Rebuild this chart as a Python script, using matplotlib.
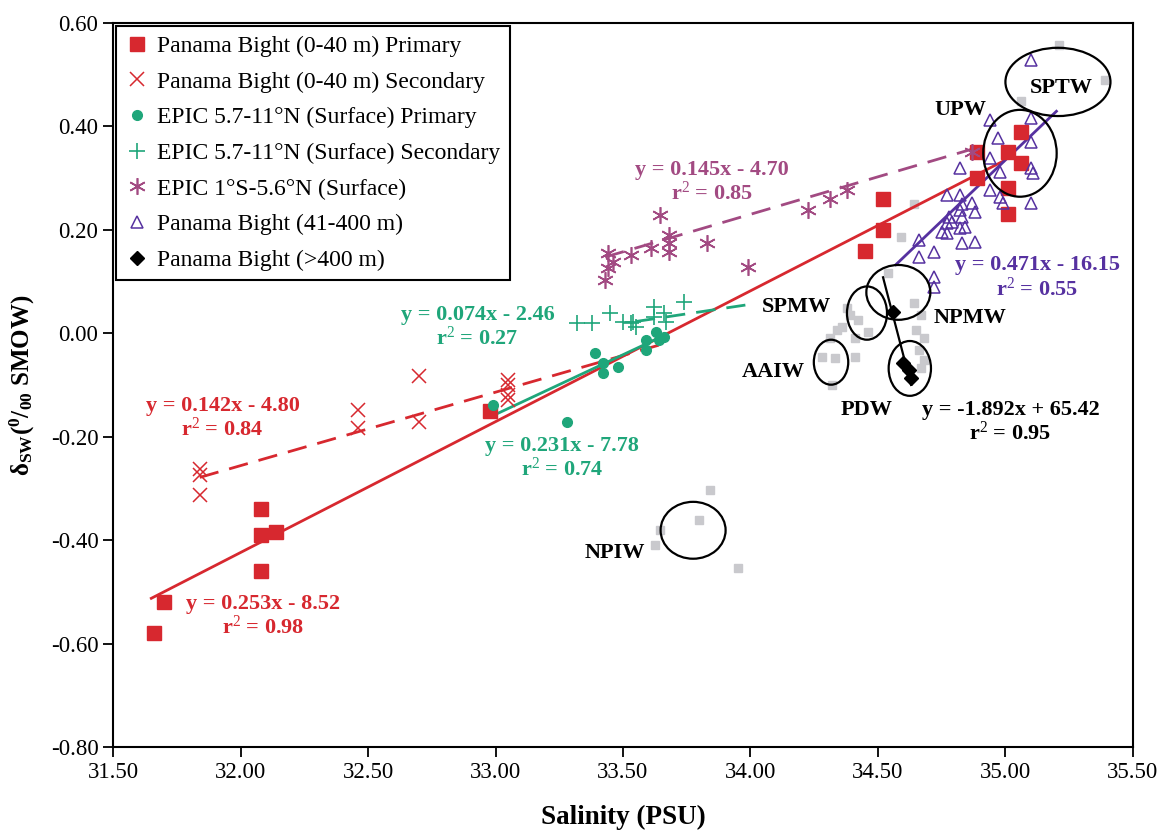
import matplotlib
matplotlib.use("Agg")
import matplotlib.pyplot as plt
from matplotlib.patches import Ellipse
from matplotlib.lines import Line2D

plt.rcParams['font.family'] = ['Liberation Serif', 'DejaVu Serif']
plt.rcParams['mathtext.fontset'] = 'custom'
plt.rcParams['mathtext.rm'] = 'Liberation Serif'
plt.rcParams['mathtext.it'] = 'Liberation Serif:italic'
plt.rcParams['mathtext.bf'] = 'Liberation Serif:bold'

# ---------------- data ----------------
# Panama Bight (0-40 m) primary
pb_pri_sal = [31.66, 31.70, 32.08, 32.08, 32.14, 32.08, 32.98, 34.52, 34.52, 34.45,
              34.89, 34.89, 35.01, 35.06, 35.06, 35.01, 35.01]
pb_pri_d18 = [-0.58, -0.52, -0.34, -0.39, -0.385, -0.46, -0.15, 0.26, 0.20, 0.16,
              0.35, 0.30, 0.35, 0.39, 0.33, 0.28, 0.23]

# Panama Bight (0-40 m) secondary
pb_sec_sal = [31.84, 31.84, 31.84, 32.46, 32.46, 32.70, 32.70, 33.05, 33.05, 33.05, 33.05]
pb_sec_d18 = [-0.262, -0.275, -0.313, -0.149, -0.184, -0.083, -0.172, -0.09, -0.10, -0.12, -0.13]

# EPIC 5.7-11N surface primary
ep_pri_sal = [32.99, 33.28, 33.39, 33.42, 33.42, 33.48, 33.59, 33.59, 33.63, 33.64, 33.66]
ep_pri_d18 = [-0.139, -0.172, -0.039, -0.058, -0.077, -0.066, -0.033, -0.014, 0.002, -0.013, -0.007]

# EPIC 5.7-11N surface secondary
ep_sec_sal = [33.32, 33.38, 33.45, 33.50, 33.53, 33.55, 33.54, 33.62, 33.62, 33.66, 33.67, 33.74]
ep_sec_d18 = [0.019, 0.019, 0.039, 0.021, 0.019, 0.012, 0.021, 0.050, 0.031, 0.040, 0.021, 0.060]

# EPIC 1S-5.6N surface
eq_sal = [33.44, 33.46, 33.44, 33.43, 33.53, 33.61, 33.645, 33.68, 33.68, 33.68,
          33.83, 33.99, 34.225, 34.31, 34.38, 34.87]
eq_d18 = [0.155, 0.137, 0.126, 0.103, 0.151, 0.164, 0.228, 0.190, 0.174, 0.157,
          0.174, 0.128, 0.238, 0.260, 0.277, 0.350]

# Panama Bight (41-400 m)
pb_mid_sal = [35.10, 34.94, 35.10, 34.97, 35.10, 34.94, 34.82, 35.10, 35.11, 34.98,
              34.94, 34.98, 34.99, 35.10, 34.77, 34.82, 34.83, 34.82, 34.87, 34.88,
              34.78, 34.83, 34.77, 34.79, 34.75, 34.82, 34.84, 34.66, 34.77, 34.83,
              34.88, 34.66, 34.72, 34.72, 34.72]
pb_mid_d18 = [0.528, 0.412, 0.416, 0.377, 0.369, 0.338, 0.319, 0.319, 0.310, 0.311,
              0.277, 0.263, 0.251, 0.251, 0.267, 0.267, 0.250, 0.238, 0.251, 0.234,
              0.224, 0.224, 0.213, 0.215, 0.195, 0.203, 0.205, 0.180, 0.193, 0.174,
              0.176, 0.147, 0.157, 0.108, 0.089]

# Panama Bight (>400 m)
pb_deep_sal = [34.56, 34.60, 34.62, 34.63]
pb_deep_d18 = [0.041, -0.058, -0.072, -0.087]

# Reference water-mass values
wm_sal = [35.39, 35.06, 35.21, 34.64, 34.59, 34.54, 34.64, 34.67, 34.38, 34.39,
          34.36, 34.34, 34.42, 34.46, 34.41, 34.65, 34.68, 34.66, 34.68, 34.67,
          34.31, 34.28, 34.33, 34.41, 34.32, 33.84, 33.80, 33.645, 33.625, 33.95]
wm_d18 = [0.489, 0.450, 0.557, 0.250, 0.186, 0.116, 0.058, 0.035, 0.048, 0.035,
          0.012, 0.006, 0.025, 0.002, -0.010, 0.006, -0.010, -0.033, -0.052, -0.068,
          -0.010, -0.046, -0.048, -0.046, -0.100, -0.304, -0.362, -0.381, -0.410, -0.453]

# Regression fits: (slope, intercept, x-start, x-end)
fit_pb_pri = (0.253, -8.52, 31.65, 34.99)
fit_pb_sec = (0.142, -4.80, 31.84, 33.66)
fit_ep_pri = (0.231, -7.78, 32.99, 33.67)
fit_ep_sec = (0.074, -2.46, 33.55, 33.98)
fit_eq = (0.145, -4.70, 33.43, 34.90)
fit_pb_mid = (0.471, -16.15, 34.57, 35.20)
fit_pb_deep = (-1.892, 65.42, 34.52, 34.63)

# Water-mass ellipses: name, centre salinity, centre d18O, width, height
masses = [
    ("SPTW", 35.206, 0.486, 0.412, 0.132),
    ("UPW", 35.057, 0.348, 0.288, 0.168),
    ("NPMW", 34.58, 0.079, 0.251, 0.106),
    ("SPMW", 34.457, 0.039, 0.157, 0.103),
    ("AAIW", 34.316, -0.056, 0.135, 0.087),
    ("PDW", 34.625, -0.068, 0.166, 0.106),
    ("NPIW", 33.775, -0.381, 0.255, 0.110),
]
# Label positions for the water masses
mass_labels = {
    "SPTW": (35.218, 0.474), "UPW": (34.825, 0.431), "SPMW": (34.18, 0.050),
    "NPMW": (34.86, 0.029), "AAIW": (34.09, -0.075), "PDW": (34.457, -0.149),
    "NPIW": (33.47, -0.424),
}

RED = '#d7282f'
GREEN = '#1fa67a'
MAGENTA = '#a24a82'
INDIGO = '#5631a0'
GRAY = '#c9c9cd'

fig = plt.figure(figsize=(11.74, 8.32), dpi=100)
ax = fig.add_axes([0.0963, 0.1022, 0.8687, 0.8702])
ax.set_xlim(31.5, 35.5)
ax.set_ylim(-0.8, 0.6)


def fit_line(fit, color, ls, lw=2.0):
    m, b, x0, x1 = fit
    xs = [x0, x1]
    ys = [m * x + b for x in xs]
    line, = ax.plot(xs, ys, color=color, lw=lw, zorder=3)
    if ls == 'dashed':
        line.set_dashes((7, 4))


# reference water masses (behind everything)
ax.plot(wm_sal, wm_d18, ls='none', marker='s', ms=6, mfc=GRAY, mec=GRAY, zorder=1)

fit_line(fit_pb_pri, RED, 'solid')
fit_line(fit_pb_sec, RED, 'dashed')
fit_line(fit_ep_pri, GREEN, 'solid')
fit_line(fit_ep_sec, GREEN, 'dashed')
fit_line(fit_eq, MAGENTA, 'dashed')
fit_line(fit_pb_mid, INDIGO, 'solid')
fit_line(fit_pb_deep, 'black', 'solid', lw=1.6)

ax.plot(pb_pri_sal, pb_pri_d18, ls='none', marker='s', ms=10, color=RED, zorder=4)
ax.plot(pb_sec_sal, pb_sec_d18, ls='none', marker='x', ms=10, mew=1.1, color=RED, zorder=4)
ax.plot(ep_pri_sal, ep_pri_d18, ls='none', marker='o', ms=7, color=GREEN, zorder=4)
ax.plot(ep_sec_sal, ep_sec_d18, ls='none', marker='+', ms=11, mew=1.2, color=GREEN, zorder=4)
ax.plot(eq_sal, eq_d18, ls='none', marker=(6, 2, 0), ms=12, mew=1.2, color=MAGENTA, zorder=4)
ax.plot(pb_mid_sal, pb_mid_d18, ls='none', marker='^', ms=8, mew=1.1, mfc='none', mec=INDIGO, zorder=4)
ax.plot(pb_deep_sal, pb_deep_d18, ls='none', marker='D', ms=7, color='black', zorder=5)

for name, cx, cy, w, h in masses:
    ax.add_patch(Ellipse((cx, cy), w, h, fill=False, ec='black', lw=1.6, zorder=6))
    lx, ly = mass_labels[name]
    ax.text(lx, ly, name, ha='center', va='center', fontsize=16, fontweight='bold', zorder=7)

# regression equations
eq_kw = dict(ha='center', va='center', fontsize=16, fontweight='bold', linespacing=1.1, zorder=7)
ax.text(33.85, 0.291, "y = 0.145x - 4.70\nr$^2$ = 0.85", color=MAGENTA, **eq_kw)
ax.text(35.125, 0.107, "y = 0.471x - 16.15\nr$^2$ = 0.55", color=INDIGO, **eq_kw)
ax.text(35.02, -0.172, "y = -1.892x + 65.42\nr$^2$ = 0.95", color='black', **eq_kw)
ax.text(32.93, 0.011, "y = 0.074x - 2.46\nr$^2$ = 0.27", color=GREEN, **eq_kw)
ax.text(33.26, -0.242, "y = 0.231x - 7.78\nr$^2$ = 0.74", color=GREEN, **eq_kw)
ax.text(31.93, -0.165, "y = 0.142x - 4.80\nr$^2$ = 0.84", color=RED, **eq_kw)
ax.text(32.09, -0.548, "y = 0.253x - 8.52\nr$^2$ = 0.98", color=RED, **eq_kw)

ax.set_xticks([31.5 + 0.5 * i for i in range(9)])
ax.set_yticks([-0.8 + 0.2 * i for i in range(8)])
ax.xaxis.set_major_formatter(matplotlib.ticker.FormatStrFormatter('%.2f'))
ax.yaxis.set_major_formatter(matplotlib.ticker.FormatStrFormatter('%.2f'))
ax.tick_params(direction='out', length=7, width=1.3, labelsize=16.5, top=False, right=False)
for sp in ax.spines.values():
    sp.set_linewidth(1.5)

ax.set_xlabel("Salinity (PSU)", fontsize=19.5, fontweight='bold', labelpad=16)
ax.set_ylabel(r"δ$_{\mathbf{SW}}$($^{\mathbf{0}}$/$_{\mathbf{00}}$ SMOW)",
              fontsize=18, fontweight='bold', labelpad=10)

handles = [
    Line2D([], [], ls='none', marker='s', ms=10, color=RED),
    Line2D([], [], ls='none', marker='x', ms=10, mew=1.1, color=RED),
    Line2D([], [], ls='none', marker='o', ms=7, color=GREEN),
    Line2D([], [], ls='none', marker='+', ms=11, mew=1.2, color=GREEN),
    Line2D([], [], ls='none', marker=(6, 2, 0), ms=12, mew=1.2, color=MAGENTA),
    Line2D([], [], ls='none', marker='^', ms=8, mew=1.1, mfc='none', mec=INDIGO),
    Line2D([], [], ls='none', marker='D', ms=7, color='black'),
]
labels = [
    "Panama Bight (0-40 m) Primary",
    "Panama Bight (0-40 m) Secondary",
    "EPIC 5.7-11°N (Surface) Primary",
    "EPIC 5.7-11°N (Surface) Secondary",
    "EPIC 1°S-5.6°N (Surface)",
    "Panama Bight (41-400 m)",
    "Panama Bight (>400 m)",
]
leg = ax.legend(handles, labels, loc='upper left', bbox_to_anchor=(0.003, 0.996),
                borderaxespad=0, fontsize=17, frameon=True, fancybox=False,
                edgecolor='black', framealpha=1, handlelength=1.0, handletextpad=0.35,
                labelspacing=0.6, borderpad=0.4)
leg.get_frame().set_linewidth(1.5)
leg.set_zorder(10)

fig.savefig("out.png", dpi=100)
